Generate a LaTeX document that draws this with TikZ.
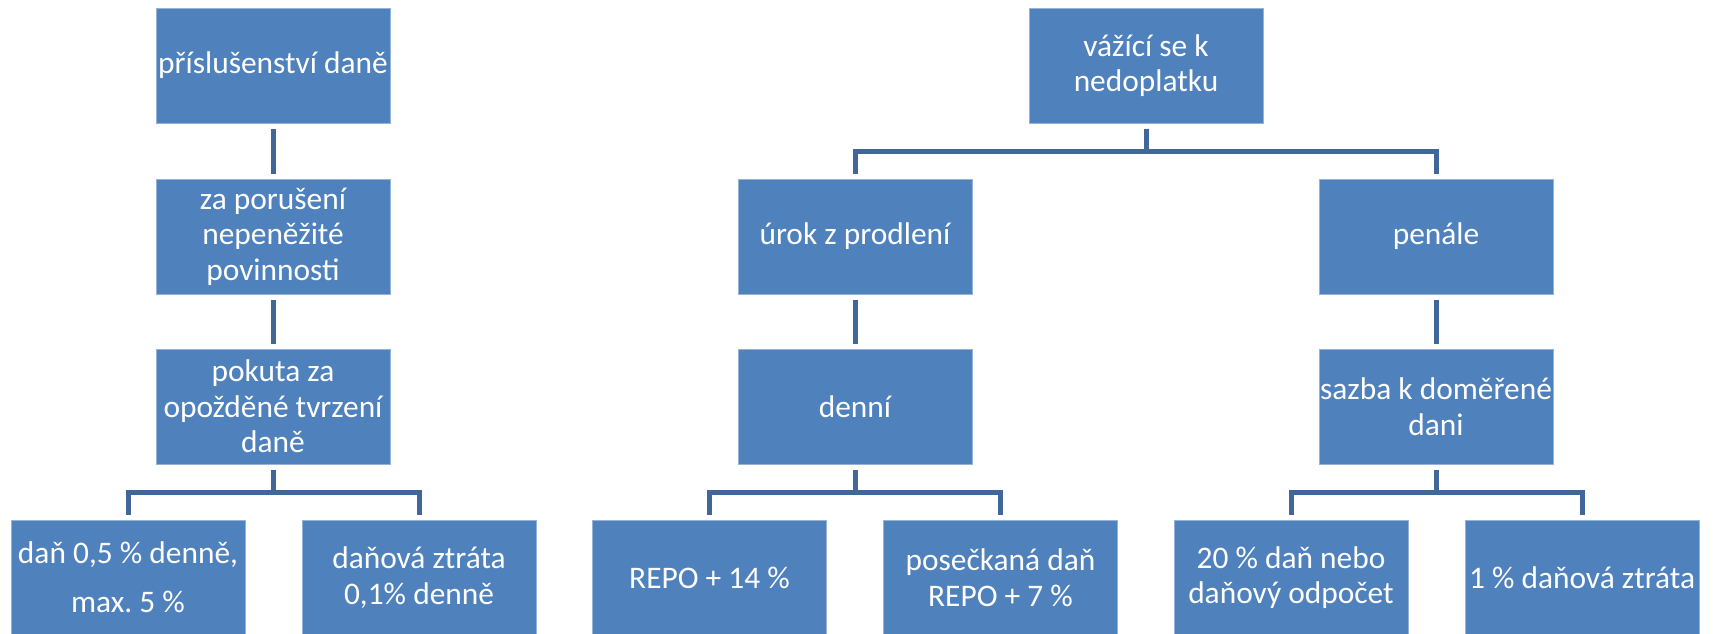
\documentclass[tikz,border=0pt]{standalone}
\usepackage{fontspec}
\setmainfont{Carlito}
\frenchspacing
\usetikzlibrary{calc}
\definecolor{boxblue}{HTML}{4F81BD}
\definecolor{lineblue}{HTML}{41679A}
\begin{document}
\begin{tikzpicture}[x=0.5pt,y=-0.5pt]
        \useasboundingbox (0,0) rectangle (1714,633);
        \begin{scope}[every node/.style={rectangle,draw=boxblue!60!white,line width=0.5pt,fill=boxblue,
                text=white,align=center,inner sep=0pt,minimum width=117pt,minimum height=57.5pt,
                font=\fontsize{15.7pt}{17.8pt}\selectfont}]
            \node (1) at (273,65.5) {příslušenství daně};
            \node (2) at (273,236.5) {za porušení\\nepeněžité\\povinnosti};
            \node (3) at (273,406.5) {pokuta za\\opožděné tvrzení\\daně};
            \node (4) at (128,577.5) {daň 0,5 \% denně,\\[6.5pt]max. 5 \%};
            \node (5) at (419,577.5) {daňová ztráta\\0,1\% denně};
            \node (6) at (1146,65.5) {vážící se k\\nedoplatku};
            \node (7) at (855,236.5) {úrok z prodlení};
            \node (8) at (1436,236.5) {penále};
            \node (9) at (855,406.5) {denní};
            \node (10) at (1436,406.5) {sazba k doměřené\\dani};
            \node (11) at (709.5,577.5) {REPO + 14 \%};
            \node (12) at (1000.5,577.5) {posečkaná daň\\REPO + 7 \%};
            \node (13) at (1291,577.5) {20 \% daň nebo\\daňový odpočet};
            \node (14) at (1582,577.5) {1 \% daňová ztráta};
        \end{scope}
        \begin{scope}[every edge/.style={draw=lineblue,line width=2.5pt,
                to path={([yshift=-2.5pt]\tikztostart.south)
                    |- ($(\tikztostart.south)!.5!(\tikztotarget.north)$)
                    -| ([yshift=2.5pt]\tikztotarget.north)}}]
            \path
                (1) edge (2)
                (2) edge (3)
                (3) edge (4)
                (3) edge (5)
                (6) edge (7)
                (6) edge (8)
                (7) edge (9)
                (8) edge (10)
                (9) edge (11)
                (9) edge (12)
                (10) edge (13)
                (10) edge (14);
        \end{scope}
    \end{tikzpicture}
\end{document}
